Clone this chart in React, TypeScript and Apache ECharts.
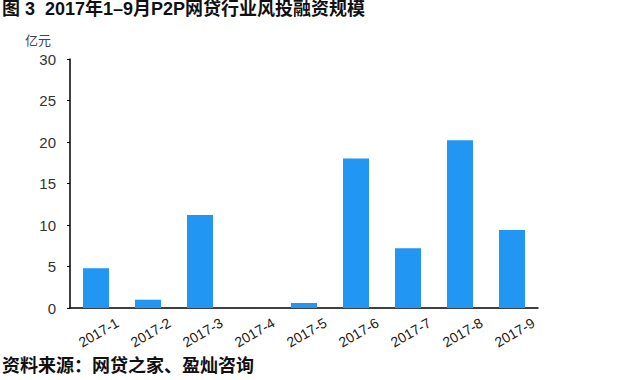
import React, { useEffect, useRef } from "react";
import * as echarts from "echarts";

const categories = ["2017-1", "2017-2", "2017-3", "2017-4", "2017-5", "2017-6", "2017-7", "2017-8", "2017-9"];
const values = [4.8, 1.0, 11.2, 0, 0.6, 18.0, 7.2, 20.2, 9.4];
const titleText = "图 3  2017年1–9月P2P网贷行业风投融资规模";
const unitText = "亿元";
const sourceText = "资料来源：网贷之家、盈灿咨询";

const CJK = "'Noto Sans CJK SC', sans-serif";
const LAT = "'Liberation Sans', 'Noto Sans CJK SC', sans-serif";

export default function App() {
  const ref = useRef<HTMLDivElement>(null);
  useEffect(() => {
    const chart = echarts.init(ref.current!, null, { renderer: "svg" });
    chart.setOption({
      animation: false,
      textStyle: { fontFamily: LAT },
      graphic: [
        { type: "text", left: 2, top: 0, style: { text: titleText, font: `bold 18px ${LAT}`, fill: "#111" } },
        { type: "text", left: 25, top: 33, style: { text: unitText, font: `13px ${CJK}`, fill: "#444" } },
        { type: "text", left: 2, top: 355, style: { text: sourceText, font: `bold 18px ${CJK}`, fill: "#111" } },
      ],
      grid: { left: 70, right: 102, top: 59, bottom: 72, containLabel: false },
      xAxis: {
        type: "category",
        data: categories,
        axisLine: { lineStyle: { color: "#000", width: 1.5 } },
        axisTick: { show: false },
        axisLabel: {
          rotate: 30,
          color: "#222",
          fontSize: 14,
          margin: 26,
          align: "center",
          verticalAlign: "middle",
          padding: [0, 0, 0, 6],
          fontFamily: LAT,
        },
      },
      yAxis: {
        type: "value",
        min: 0,
        max: 30,
        interval: 5,
        axisLine: { show: true, lineStyle: { color: "#000", width: 1.5 } },
        axisTick: { show: true, length: 3, lineStyle: { color: "#000" } },
        splitLine: { show: false },
        axisLabel: { color: "#333", fontSize: 15, margin: 14, fontFamily: LAT },
      },
      series: [
        {
          type: "bar",
          data: values,
          barWidth: "50%",
          itemStyle: { color: "#2196F3" },
        },
      ],
    });
    return () => chart.dispose();
  }, []);
  return <div ref={ref} style={{ width: 640, height: 380, position: "absolute", left: 0, top: 0 }} />;
}
